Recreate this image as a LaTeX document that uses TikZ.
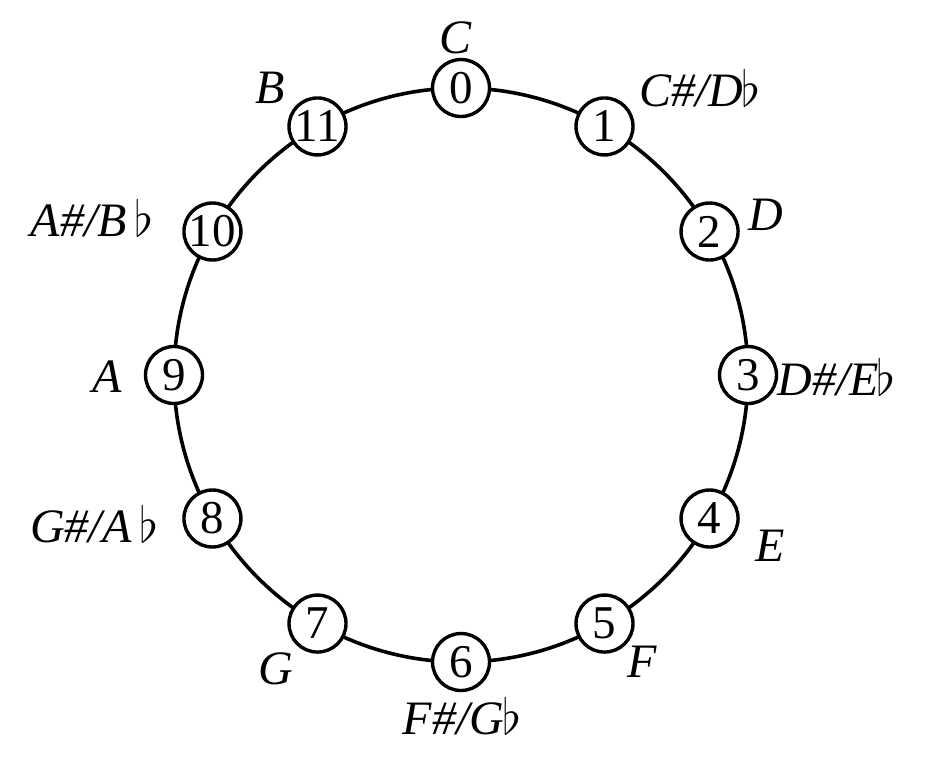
\documentclass[tikz,border=0pt]{standalone}
\usepackage{fontspec}
\setmainfont{Liberation Serif}
\begin{document}
\begin{tikzpicture}[x=.5pt,y=-.5pt,
  every node/.style={font=\fontsize{23.5}{27}\selectfont},
  pc/.style={circle,draw,fill=white,line width=1.7pt,minimum size=28.5pt,inner sep=0pt},
  nm/.style={font=\fontsize{24}{27}\selectfont\itshape,inner sep=0pt}]
\useasboundingbox (0,0) rectangle (936,772);
\draw[line width=1.8pt](461,375) circle (287);
% pitch classes
\foreach \k in {0,...,11}
  \node[pc] (n\k) at ({461+287*sin(30*\k)},{375-287*cos(30*\k)}) {\k};
% note names
\node[nm] (c) at (456,38) {C};
\node[nm,anchor=west] (cs) at (639,88) {C\#/D\kern-1pt$\flat$};
\node[nm] (d) at (766,215) {D};
\node[nm,anchor=west] (ds) at (777,377) {D\#/E\kern-1pt$\flat$};
\node[nm] (e) at (770,546) {E};
\node[nm] (f) at (642,662) {F};
\node[nm] (fs) at (462,716) {F\#/G\kern-1pt$\flat$};
\node[nm] (g) at (276,669) {G};
\node[nm,anchor=east] (gs) at (159,524) {G\#/A\,$\flat$};
\node[nm] (a) at (107,377) {A};
\node[nm,anchor=east] (as) at (154,218) {A\#/B\,$\flat$};
\node[nm] (b) at (270,88) {B};
\end{tikzpicture}
\end{document}
